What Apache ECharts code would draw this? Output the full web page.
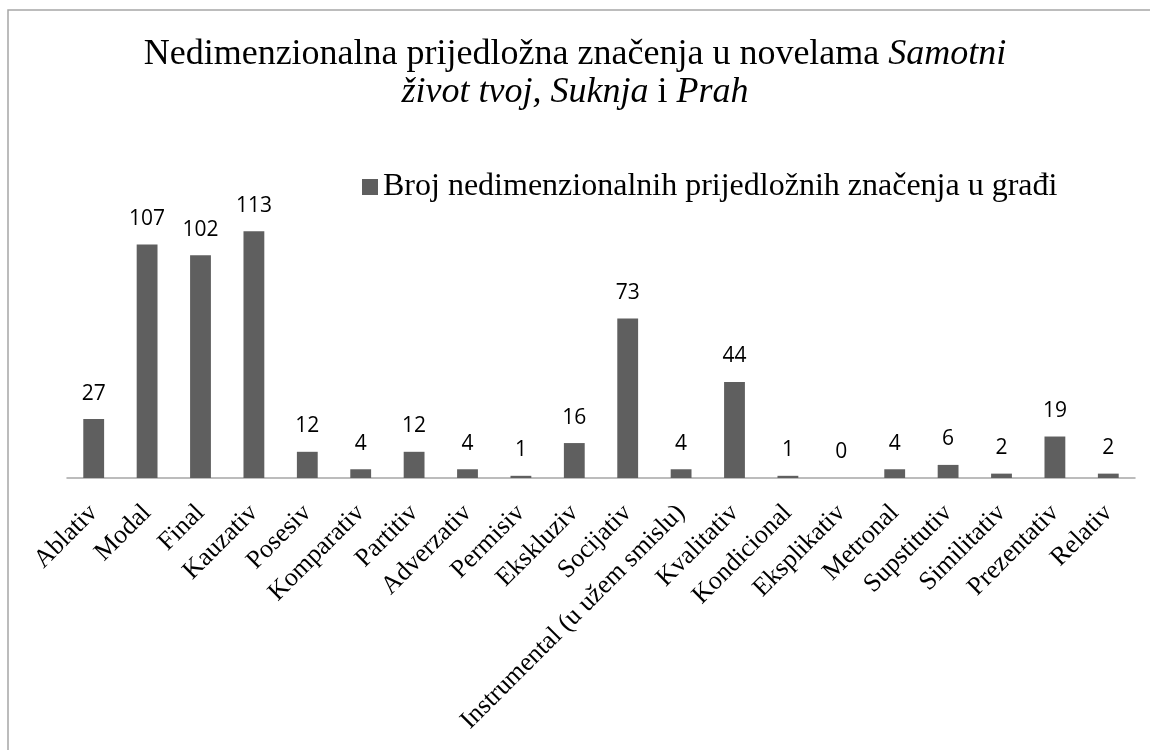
<!DOCTYPE html>
<html>
<head>
<meta charset="utf-8">
<script src="https://cdn.jsdelivr.net/npm/echarts@6/dist/echarts.min.js"></script>
<style>
  html, body { margin: 0; padding: 0; background: #fff; }
  #main { width: 1150px; height: 750px; }
</style>
</head>
<body>
<div id="main"></div>
<script>
// kategorije i vrijednosti
var kategorije = ['Ablativ', 'Modal', 'Final', 'Kauzativ', 'Posesiv', 'Komparativ', 'Partitiv',
    'Adverzativ', 'Permisiv', 'Ekskluziv', 'Socijativ', 'Instrumental (u užem smislu)', 'Kvalitativ',
    'Kondicional', 'Eksplikativ', 'Metronal', 'Supstitutiv', 'Similitativ', 'Prezentativ', 'Relativ'];
var vrijednosti = [27, 107, 102, 113, 12, 4, 12, 4, 1, 16, 73, 4, 44, 1, 0, 4, 6, 2, 19, 2];
var nazivSerije = 'Broj nedimenzionalnih prijedložnih značenja u građi';

var myChart = echarts.init(document.getElementById('main'));

var serif = '"Liberation Serif", "Times New Roman", serif';

var option = {
    backgroundColor: '#fff',
    animation: false,
    graphic: [{
        type: 'rect',
        shape: { x: 8, y: 10, width: 1200, height: 800 },
        style: { fill: 'none', stroke: '#a6a6a6', lineWidth: 1.5 },
        silent: true
    }],
    title: {
        text: '{n|Nedimenzionalna prijedložna značenja u novelama }{i|Samotni}\n{i|život tvoj, Suknja} {n|i} {i|Prah}',
        left: 'center',
        top: 31,
        textStyle: {
            fontFamily: serif,
            fontSize: 36,
            fontWeight: 'normal',
            color: '#000',
            rich: {
                n: { fontFamily: serif, fontSize: 36, color: '#000', lineHeight: 38 },
                i: { fontFamily: serif, fontSize: 36, color: '#000', fontStyle: 'italic', lineHeight: 38 }
            }
        }
    },
    legend: {
        left: 357,
        top: 166,
        icon: 'rect',
        itemWidth: 16,
        itemHeight: 16,
        data: [nazivSerije],
        textStyle: { fontFamily: serif, fontSize: 32, color: '#000' }
    },
    grid: {
        left: 67,
        right: 15,
        top: 216,
        bottom: 272,
        containLabel: false
    },
    xAxis: {
        type: 'category',
        data: kategorije,
        axisLine: { lineStyle: { color: '#a6a6a6', width: 1.5 } },
        axisTick: { show: false },
        axisLabel: {
            interval: 0,
            rotate: 45,
            margin: 31,
            fontFamily: serif,
            fontSize: 26,
            color: '#000'
        }
    },
    yAxis: {
        type: 'value',
        min: 0,
        max: 120,
        show: false,
        splitLine: { show: false }
    },
    series: [{
        name: nazivSerije,
        type: 'bar',
        data: vrijednosti,
        barWidth: '39%',
        itemStyle: { color: '#5f5f5f' },
        label: {
            show: true,
            position: 'top',
            distance: 15,
            fontFamily: '"Open Sans", sans-serif',
            fontSize: 21,
            color: '#000'
        }
    }]
};
myChart.setOption(option);
</script>
</body>
</html>
